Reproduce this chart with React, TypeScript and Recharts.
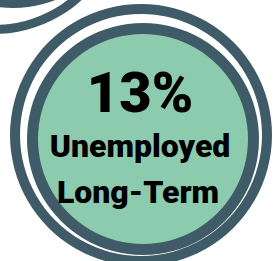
import React from "react";
import { PieChart, Pie, Cell, Label } from "recharts";

const categories = ["Unemployed Long-Term"];
const values = [13];
const valueLabels = ["13%"];
const textLines = ["Unemployed", "Long-Term"];

const GREEN = "#8DCBAF";
const DARK = "#3F5B67";

const data = categories.map((c, i) => ({ name: c, value: values[i] }));

const CenterText = (props: any) => {
  const vb = props.viewBox || {};
  const cx = vb.cx ?? 143;
  const cy = vb.cy ?? 139;
  const x = cx - 3;
  return (
    <g fontFamily="Roboto, 'Liberation Sans', Arial, sans-serif" fontWeight={900} fill="#000">
      <text x={x} y={cy - 27} textAnchor="middle" fontSize={56}>
        {valueLabels[0]}
      </text>
      <text x={x} y={cy + 18} textAnchor="middle" fontSize={32}>
        {textLines[0]}
      </text>
      <text x={x - 2} y={cy + 64} textAnchor="middle" fontSize={32}>
        {textLines[1]}
      </text>
    </g>
  );
};

export default function App() {
  return (
    <div style={{ position: "absolute", left: 0, top: 0, width: 273, height: 261, background: "#fff" }}>
      <PieChart width={273} height={261} margin={{ top: 0, right: 0, bottom: 0, left: 0 }}>
        {/* neighbouring bubble, top-left */}
        <Pie data={data} dataKey="value" cx={-6} cy={-96} innerRadius={121} outerRadius={130}
          startAngle={90} endAngle={450} stroke="none" isAnimationActive={false}>
          {data.map((d, i) => <Cell key={i} fill={DARK} />)}
        </Pie>
        <Pie data={data} dataKey="value" cx={13} cy={-108} innerRadius={0} outerRadius={116}
          startAngle={90} endAngle={450} stroke="none" isAnimationActive={false}>
          {data.map((d, i) => <Cell key={i} fill={DARK} />)}
        </Pie>
        <Pie data={data} dataKey="value" cx={13} cy={-108} innerRadius={0} outerRadius={105}
          startAngle={90} endAngle={450} stroke="none" isAnimationActive={false}>
          {data.map((d, i) => <Cell key={i} fill={GREEN} />)}
        </Pie>
        {/* main bubble */}
        <Pie data={data} dataKey="value" cx={141} cy={135} innerRadius={121} outerRadius={131}
          startAngle={90} endAngle={450} stroke="none" isAnimationActive={false}>
          {data.map((d, i) => <Cell key={i} fill={DARK} />)}
        </Pie>
        <Pie data={data} dataKey="value" cx={143} cy={139} innerRadius={0} outerRadius={116}
          startAngle={90} endAngle={450} stroke="none" isAnimationActive={false}>
          {data.map((d, i) => <Cell key={i} fill={DARK} />)}
        </Pie>
        <Pie data={data} dataKey="value" cx={143} cy={139} innerRadius={0} outerRadius={105}
          startAngle={90} endAngle={450} stroke="none" isAnimationActive={false}>
          {data.map((d, i) => <Cell key={i} fill={GREEN} />)}
          <Label position="center" content={<CenterText />} />
        </Pie>
      </PieChart>
    </div>
  );
}
